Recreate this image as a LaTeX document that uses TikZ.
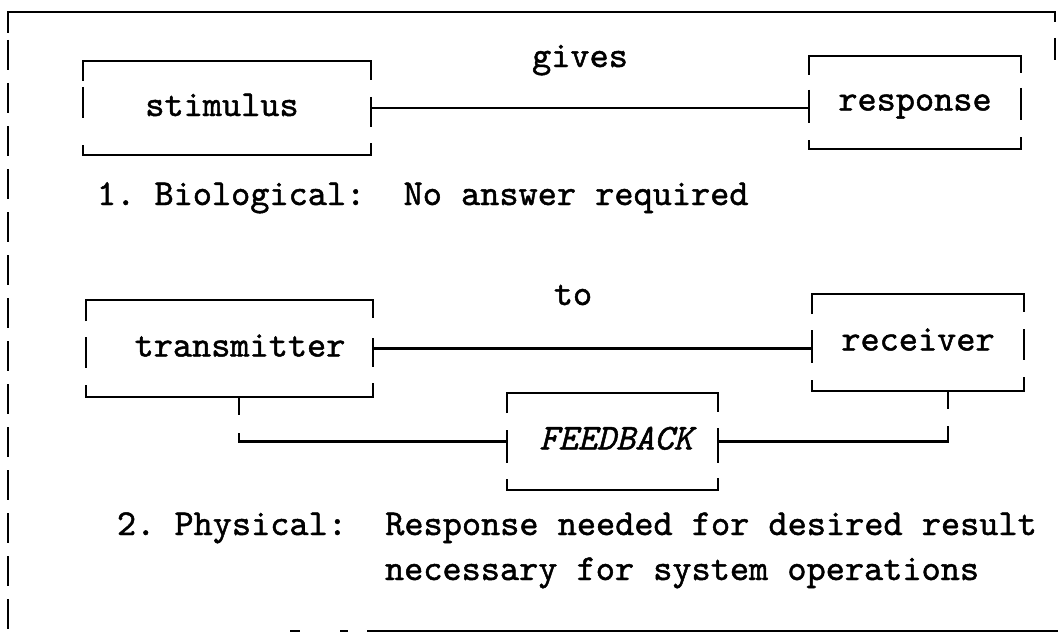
\documentclass[tikz,border=0pt]{standalone}
\usepackage{fontspec}
\setmonofont{lmmono10-regular.otf}[ItalicFont=lmmono10-italic.otf, FakeBold=1.3]
\usetikzlibrary{calc}
\newcommand{\mymono}{\fontsize{36.5}{40}\selectfont\ttfamily}
\newcommand{\brokenbox}[9]{%
  \draw[ln] ($(#1.north west)+(0,#2)$) -- (#1.north west) -- (#1.north east) -- ($(#1.north east)+(0,#6)$);
  \draw[ln] ($(#1.north west)+(0,#3)$) -- ($(#1.north west)+(0,#4)$);
  \draw[ln] ($(#1.north east)+(0,#7)$) -- ($(#1.north east)+(0,#8)$);
  \draw[ln] ($(#1.north west)+(0,#5)$) -- (#1.south west) -- (#1.south east) -- ($(#1.north east)+(0,#9)$);
}
\tikzset{
  ln/.style={line width=2.8pt},
  box/.style={draw=none, inner sep=0pt, outer sep=0pt, text height=16pt, text depth=0pt, font=\mymono},
  lbl/.style={inner sep=0pt, outer sep=0pt, font=\mymono},
}
\begin{document}
\begin{tikzpicture}[x=1pt,y=-1pt]
\useasboundingbox (0,0) rectangle (1058,634);
% frame
\draw[ln] (8,33) -- (8,12) -- (1055,12) -- (1055,22);
\draw[ln] (1055,38) -- (1055,60);
\draw[ln, dash pattern=on 30pt off 13pt] (8,40) -- (8,634);
\draw[ln] (367,631) -- (1058,631);
\draw[line width=1.5pt] (290,631) -- (300,631) (340,631) -- (348,631);
% boxes
\node[box, minimum width=288pt, minimum height=94pt] (stim) at (227,108) {stimulus\hspace*{10pt}};
\node[box, minimum width=212pt, minimum height=93pt] (resp) at (915,102.5) {response};
\node[box, minimum width=287pt, minimum height=97pt] (trans) at (229.5,348.5) {\hspace*{21pt}transmitter};
\node[box, minimum width=212pt, minimum height=97pt] (recv) at (918,342.5) {receiver};
\node[box, minimum width=211pt, minimum height=97pt, font=\mymono\itshape] (fb) at (612.5,441.5) {\hspace*{7pt}FEEDBACK};
\brokenbox{stim}{20}{26}{57}{84}{19}{36}{66}{82}
\brokenbox{resp}{19}{34}{67}{84}{17}{32}{64}{81}
\brokenbox{trans}{21}{37}{68}{85}{18}{38}{67}{83}
\brokenbox{recv}{20}{36}{69}{86}{18}{35}{66}{83}
\brokenbox{fb}{20}{37}{70}{86}{19}{35}{70}{85}
% connectors
\draw[ln] (stim.east) -- (stim.east -| resp.west);
\draw[ln] (trans.east) -- (trans.east -| recv.west);
\coordinate (ta) at (239,415);
\coordinate (tb) at (239,433);
\draw[ln] (trans.south -| ta) -- (ta);
\draw[ln] (tb) |- (fb.west);
\coordinate (ra) at (948,409);
\coordinate (rb) at (948,426);
\draw[ln] (recv.south -| ra) -- (ra);
\draw[ln] (rb) |- (fb.east);
% labels
\node[lbl, anchor=base] (gives) at (580,67) {gives};
\node[lbl, anchor=base] (to) at (573,305) {to};
\node[lbl, anchor=base west] (bio) at (97,205) {1.~Biological:~~No~answer~required};
\node[lbl, anchor=base west] (phys) at (117,535) {2.~Physical:~~Response~needed~for~desired~result};
\node[lbl, anchor=base west] (nec) at (385,580) {necessary~for~system~operations};
\end{tikzpicture}
\end{document}
